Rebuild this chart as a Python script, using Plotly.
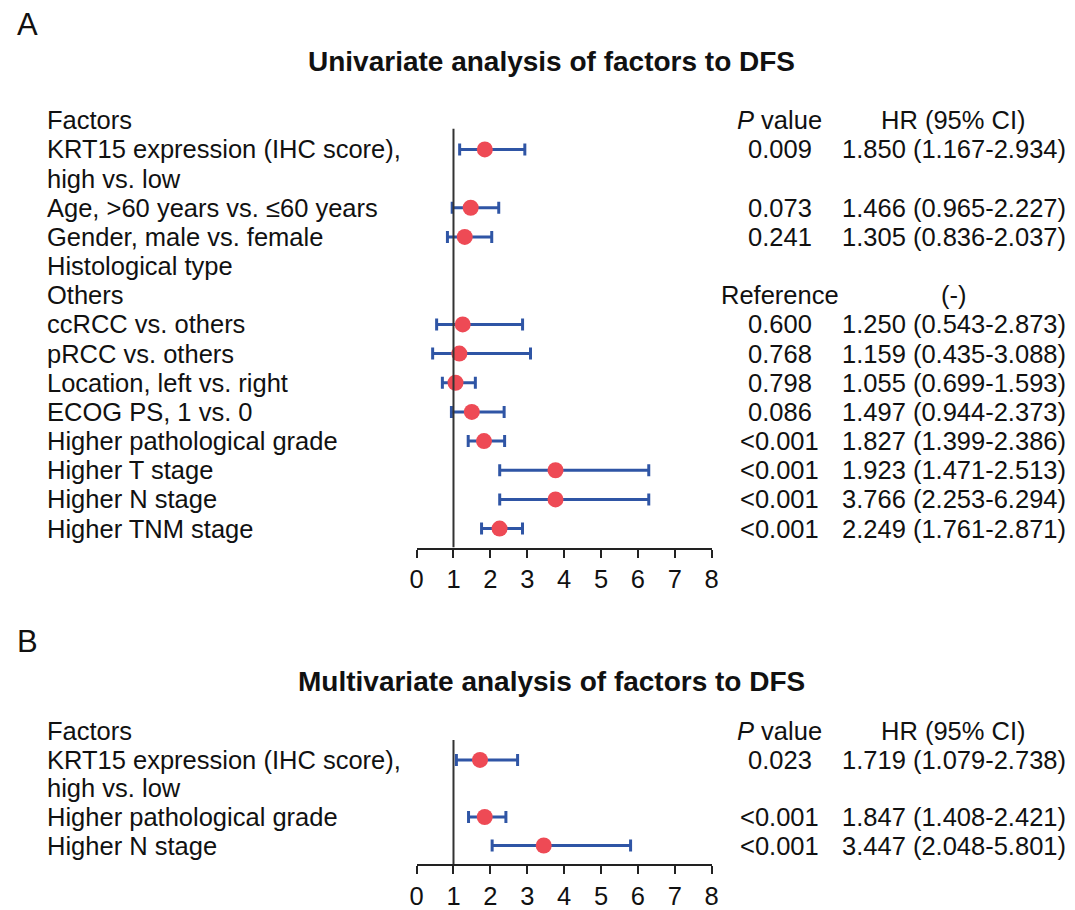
import plotly.graph_objects as go

W, H = 1075, 910
FONT = "Arial, Liberation Sans, sans-serif"
TXT = 25.5

# ---------------- Panel A data ----------------
labels_a = ["Factors", "KRT15 expression (IHC score),", "high vs. low",
            "Age, >60 years vs. ≤60 years", "Gender, male vs. female",
            "Histological type", "Others", "ccRCC vs. others", "pRCC vs. others",
            "Location, left vs. right", "ECOG PS, 1 vs. 0",
            "Higher pathological grade", "Higher T stage", "Higher N stage",
            "Higher TNM stage"]
pval_a = ["<i>P</i> value", "0.009", "", "0.073", "0.241", "", "Reference",
          "0.600", "0.768", "0.798", "0.086", "<0.001", "<0.001", "<0.001", "<0.001"]
hrtxt_a = ["HR (95% CI)", "1.850 (1.167-2.934)", "", "1.466 (0.965-2.227)",
           "1.305 (0.836-2.037)", "", "(-)", "1.250 (0.543-2.873)",
           "1.159 (0.435-3.088)", "1.055 (0.699-1.593)", "1.497 (0.944-2.373)",
           "1.827 (1.399-2.386)", "1.923 (1.471-2.513)", "3.766 (2.253-6.294)",
           "2.249 (1.761-2.871)"]
# plotted marks (as drawn in the figure)
hr_a = [None, 1.850, None, 1.466, 1.305, None, None, 1.250, 1.159, 1.055, 1.497,
        1.827, 3.766, 3.766, 2.249]
lo_a = [None, 1.167, None, 0.965, 0.836, None, None, 0.543, 0.435, 0.699, 0.944,
        1.399, 2.253, 2.253, 1.761]
hi_a = [None, 2.934, None, 2.227, 2.037, None, None, 2.873, 3.088, 1.593, 2.373,
        2.386, 6.294, 6.294, 2.871]

# ---------------- Panel B data ----------------
labels_b = ["Factors", "KRT15 expression (IHC score),", "high vs. low",
            "Higher pathological grade", "Higher N stage"]
pval_b = ["<i>P</i> value", "0.023", "", "<0.001", "<0.001"]
hrtxt_b = ["HR (95% CI)", "1.719 (1.079-2.738)", "", "1.847 (1.408-2.421)",
           "3.447 (2.048-5.801)"]
hr_b = [None, 1.719, None, 1.847, 3.447]
lo_b = [None, 1.079, None, 1.408, 2.048]
hi_b = [None, 2.738, None, 2.421, 5.801]

x_ticks = [0, 1, 2, 3, 4, 5, 6, 7, 8]

RED = "#EE4A55"
BLUE = "#2F55A5"


def px(x):
    return x / W


def py(y):
    return 1 - y / H


fig = go.Figure()


def add_panel(labels, pvals, hrtxt, hr, lo, hi, xa, ya):
    rows = [i for i, v in enumerate(hr) if v is not None]
    xs = [hr[i] for i in rows]
    ep = [hi[i] - hr[i] for i in rows]
    em = [hr[i] - lo[i] for i in rows]
    fig.add_trace(go.Scatter(
        x=xs, y=rows, mode="markers", xaxis=xa, yaxis=ya,
        marker=dict(color=RED, size=16, line=dict(width=0)),
        error_x=dict(type="data", symmetric=False, array=ep, arrayminus=em,
                     color=BLUE, thickness=3, width=6),
        showlegend=False, hoverinfo="skip"))
    yref = ya
    for i, t in enumerate(labels):
        fig.add_annotation(x=px(39), y=i, xref="paper", yref=yref, text=t,
                           showarrow=False, xanchor="left", yanchor="middle",
                           font=dict(size=TXT, family=FONT, color="#111"))
    for i, t in enumerate(pvals):
        if t:
            fig.add_annotation(x=px(783), y=i, xref="paper", yref=yref, text=t,
                               showarrow=False, xanchor="center", yanchor="middle",
                               font=dict(size=TXT, family=FONT, color="#111"))
    for i, t in enumerate(hrtxt):
        if t:
            fig.add_annotation(x=px(959), y=i, xref="paper", yref=yref, text=t,
                               showarrow=False, xanchor="center", yanchor="middle",
                               font=dict(size=TXT, family=FONT, color="#111"))


add_panel(labels_a, pval_a, hrtxt_a, hr_a, lo_a, hi_a, "x", "y")
add_panel(labels_b, pval_b, hrtxt_b, hr_b, lo_b, hi_b, "x2", "y2")

# reference lines at HR = 1
fig.add_shape(type="line", xref="x", yref="y", x0=1, x1=1, y0=0.29, y1=14.65,
              line=dict(color="#333", width=2))
fig.add_shape(type="line", xref="x2", yref="y2", x0=1, x1=1, y0=0.3, y1=4.66,
              line=dict(color="#333", width=2))

xdom = [px(415), px(714)]
xaxis_common = dict(range=[0, 8], tickvals=x_ticks, showgrid=False, zeroline=False,
                    showline=True, linecolor="#222", linewidth=2, ticks="outside",
                    ticklen=8, tickwidth=2, tickcolor="#222",
                    tickfont=dict(size=TXT, family=FONT, color="#111"),
                    domain=xdom, fixedrange=True)
yaxis_common = dict(showgrid=False, zeroline=False, showline=False,
                    showticklabels=False, ticks="", fixedrange=True)

fig.update_layout(
    width=W, height=H, margin=dict(l=0, r=0, t=0, b=0),
    paper_bgcolor="white", plot_bgcolor="white",
    xaxis=dict(**xaxis_common, anchor="y"),
    yaxis=dict(**yaxis_common, range=[14.65, -0.39], domain=[py(553), py(110)]),
    xaxis2=dict(**xaxis_common, anchor="y2"),
    yaxis2=dict(**yaxis_common, range=[4.66, -0.30], domain=[py(873), py(730)]),
)

# panel letters and titles
def note(x, y, text, size):
    fig.add_annotation(x=px(x), y=py(y), xref="paper", yref="paper", text=text,
                       showarrow=False, xanchor="center", yanchor="middle",
                       font=dict(size=size, family=FONT, color="#111"))


note(21, 25, "A", 31)
note(21, 648, "B", 31)
note(552, 62, "<b>Univariate analysis of factors to DFS</b>", 28)
note(552, 688, "<b>Multivariate analysis of factors to DFS</b>", 28)

fig.write_html("out.html")
